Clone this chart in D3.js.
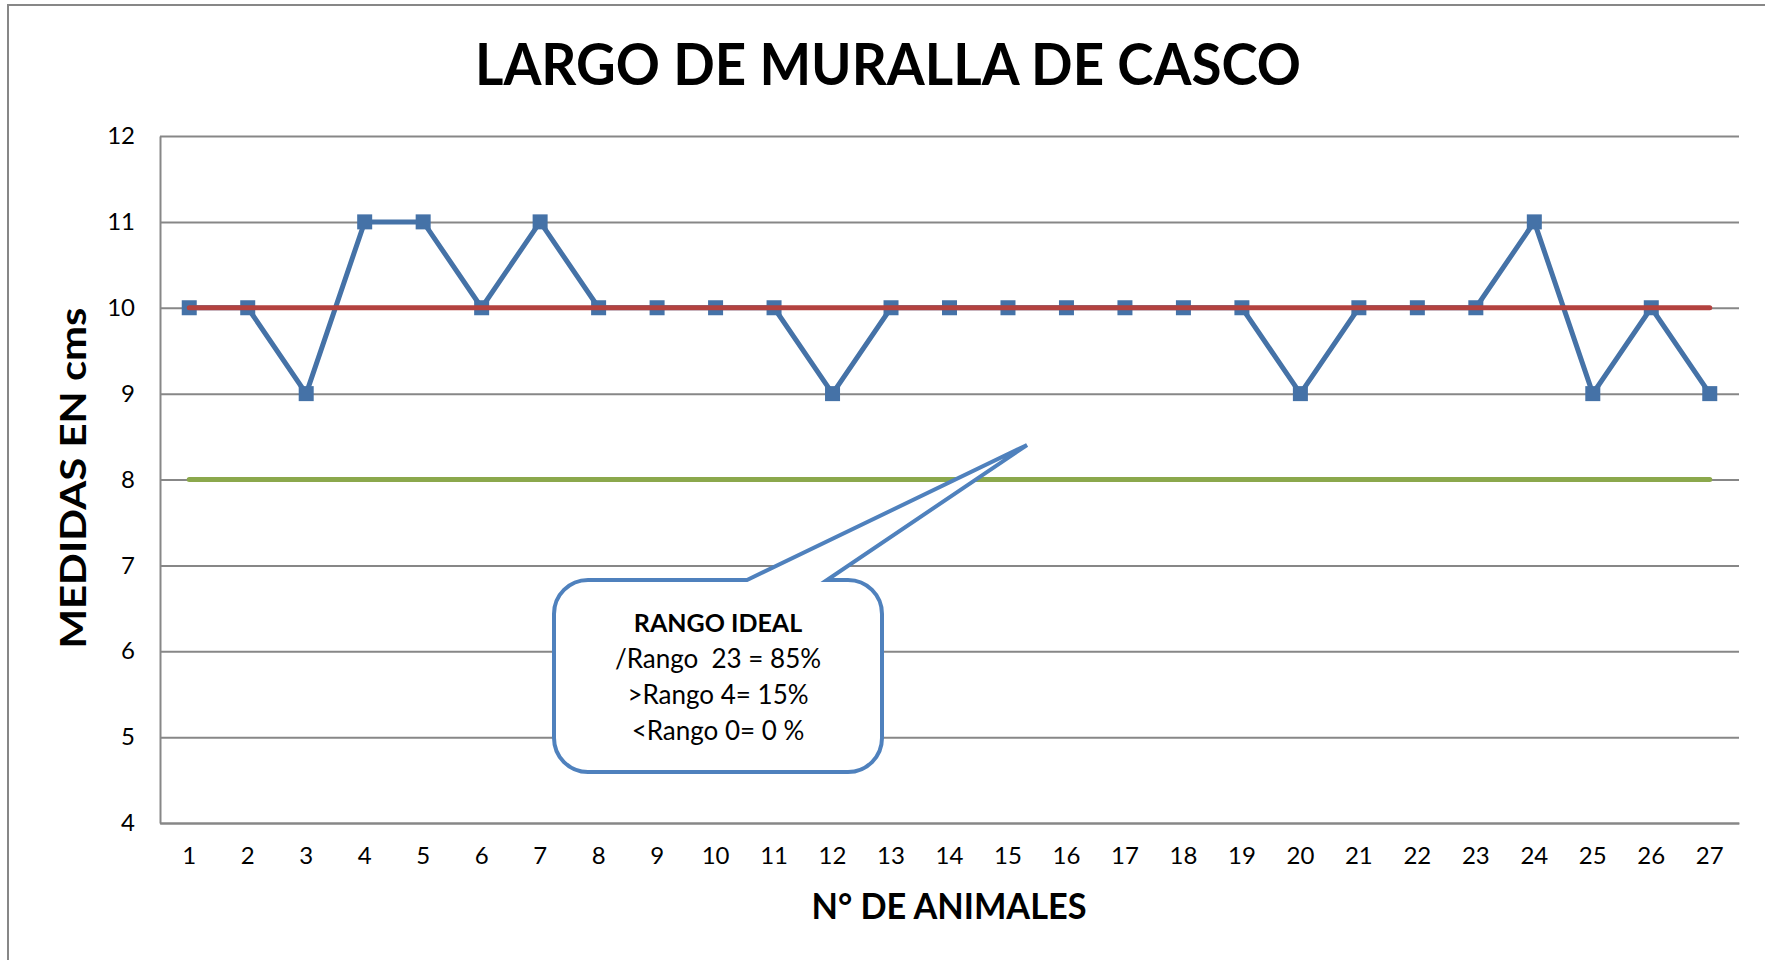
<!DOCTYPE html>
<html>
<head>
<meta charset="utf-8">
<script src="https://cdn.jsdelivr.net/npm/d3@7"></script>
<style>
  html, body { margin: 0; padding: 0; background: #fff; }
  svg { display: block; font-family: Lato, "Open Sans", sans-serif; }
</style>
</head>
<body>
<svg id="chart" width="1765" height="960"></svg>
<script>
// ---- data ----
const animals = d3.range(1, 28).map(String);
const medidas = [10,10,9,11,11,10,11,10,10,10,10,9,10,10,10,10,10,10,10,9,10,10,10,11,9,10,9];
const limiteSuperior = animals.map(() => 10);
const limiteInferior = animals.map(() => 8);
const yTicks = [4,5,6,7,8,9,10,11,12];
const titleText = "LARGO DE MURALLA DE CASCO";
const xTitle = "N° DE ANIMALES";
const yTitle = "MEDIDAS EN cms";
const calloutTitle = "RANGO IDEAL";
const calloutLines = ["/Rango  23 = 85%", ">Rango 4= 15%", "<Rango 0= 0 %"];

const svg = d3.select("#chart");
const W = 1765, H = 960;
const m = { left: 160, right: W - 1739, top: 136, bottom: H - 823 };

// outer chart border (only top & left visible)
svg.append("rect").attr("x", 8).attr("y", 5).attr("width", W).attr("height", H)
  .attr("fill", "none").attr("stroke", "#878787").attr("stroke-width", 2);

const x = d3.scaleBand().domain(animals).range([m.left, W - m.right]).paddingInner(0).paddingOuter(0);
const y = d3.scaleLinear().domain([4, 12]).range([H - m.bottom, m.top]);
const cx = d => x(d) + x.bandwidth() / 2;

// gridlines
const grid = svg.append("g").attr("transform", `translate(${m.left},0)`)
  .call(d3.axisLeft(y).tickValues(yTicks).tickSize(-(W - m.right - m.left)).tickFormat(""));
grid.select(".domain").remove();
grid.selectAll("line").attr("stroke", "#878787").attr("stroke-width", 2);

// y axis
const yAx = svg.append("g").attr("transform", `translate(${m.left},0)`)
  .call(d3.axisLeft(y).tickValues(yTicks).tickSize(0).tickPadding(25).tickFormat(d3.format("d")));
yAx.select(".domain").attr("stroke", "#878787").attr("stroke-width", 2);
yAx.selectAll("text").attr("font-size", 24).attr("fill", "#000").attr("font-family", "Lato");

// x axis
const xAx = svg.append("g").attr("transform", `translate(0,${H - m.bottom})`)
  .call(d3.axisBottom(x).tickSize(0).tickPadding(24));
xAx.select(".domain").attr("stroke", "#878787").attr("stroke-width", 2);
xAx.selectAll("text").attr("font-size", 24).attr("fill", "#000").attr("font-family", "Lato");

// series: medidas
const line = d3.line().x((d, i) => cx(animals[i])).y(d => y(d));
svg.append("path").datum(medidas).attr("d", line)
  .attr("fill", "none").attr("stroke", "#4572A7").attr("stroke-width", 5).attr("stroke-linejoin", "miter");
svg.append("g").selectAll("rect").data(medidas).join("rect")
  .attr("x", (d, i) => cx(animals[i]) - 7.5).attr("y", d => y(d) - 7.5)
  .attr("width", 15).attr("height", 15).attr("fill", "#4572A7");

// reference lines
svg.append("path").datum(limiteSuperior).attr("d", line)
  .attr("fill", "none").attr("stroke", "#B3423F").attr("stroke-width", 5).attr("stroke-linecap", "round");
svg.append("path").datum(limiteInferior).attr("d", line)
  .attr("fill", "none").attr("stroke", "#8BA84C").attr("stroke-width", 5).attr("stroke-linecap", "round");

// title
svg.append("text").attr("x", 888).attr("y", 85).attr("text-anchor", "middle")
  .attr("font-size", 57).attr("font-weight", "bold").attr("fill", "#000")
  .attr("textLength", 826).attr("lengthAdjust", "spacingAndGlyphs").text(titleText);

// x title
svg.append("text").attr("x", 949).attr("y", 919).attr("text-anchor", "middle")
  .attr("font-size", 36).attr("font-weight", "bold").attr("fill", "#000")
  .attr("textLength", 275).attr("lengthAdjust", "spacingAndGlyphs").text(xTitle);

// y title
svg.append("text").attr("transform", "translate(86,478) rotate(-90)").attr("text-anchor", "middle")
  .attr("font-size", 37).attr("font-weight", "bold").attr("fill", "#000")
  .attr("textLength", 341).attr("lengthAdjust", "spacingAndGlyphs").text(yTitle);

// callout (wedge rectangle)
const bx0 = 554, bx1 = 882, by0 = 580, by1 = 772, r = 34;
const tipX = 1027, tipY = 445, tA = 747, tB = 827;
const p = d3.path();
p.moveTo(bx0 + r, by0);
p.lineTo(tA, by0);
p.lineTo(tipX, tipY);
p.lineTo(tB, by0);
p.lineTo(bx1 - r, by0);
p.arcTo(bx1, by0, bx1, by0 + r, r);
p.lineTo(bx1, by1 - r);
p.arcTo(bx1, by1, bx1 - r, by1, r);
p.lineTo(bx0 + r, by1);
p.arcTo(bx0, by1, bx0, by1 - r, r);
p.lineTo(bx0, by0 + r);
p.arcTo(bx0, by0, bx0 + r, by0, r);
p.closePath();
svg.append("path").attr("d", p.toString()).attr("fill", "#fff")
  .attr("stroke", "#4F81BD").attr("stroke-width", 4).attr("stroke-linejoin", "miter");

const ct = svg.append("text").attr("text-anchor", "middle").attr("fill", "#000").attr("font-size", 26);
ct.append("tspan").attr("x", 718).attr("y", 632).attr("font-weight", "bold").attr("font-size", 25).text(calloutTitle);
calloutLines.forEach((t, i) => {
  ct.append("tspan").attr("x", 718).attr("y", 668 + i * 36).attr("xml:space", "preserve").text(t);
});
</script>
</body>
</html>
